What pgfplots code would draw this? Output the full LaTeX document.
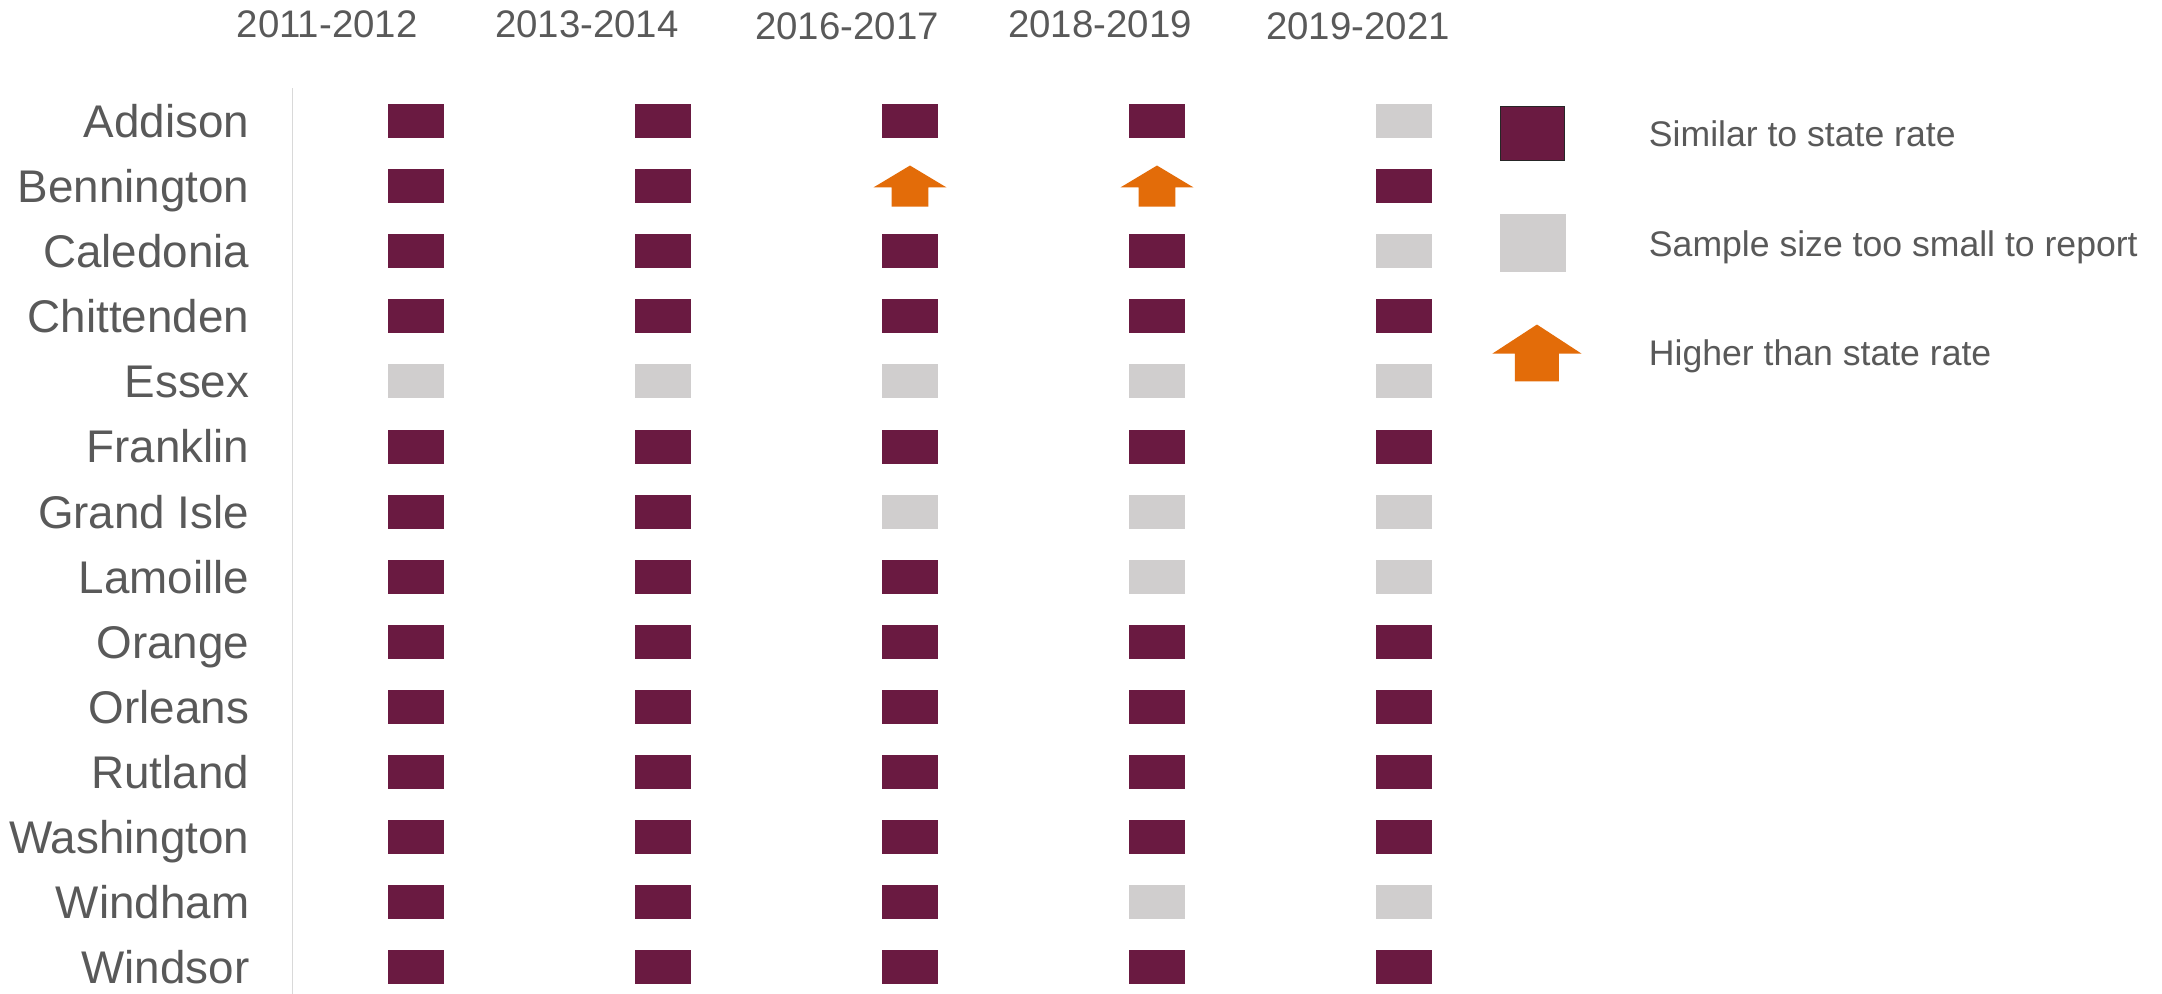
\documentclass[border=0pt]{standalone}
\usepackage{pgfplots}
\pgfplotsset{compat=1.18}
\usepackage{fontspec}
\setmainfont{Liberation Sans}

\definecolor{simpurple}{HTML}{6A1A41}
\definecolor{smallgray}{HTML}{D0CECE}
\definecolor{highorange}{HTML}{E36C09}
\definecolor{txtgray}{HTML}{595959}
\definecolor{axgray}{HTML}{D9D9D9}

% cell marks (1px = 0.25pt)
\pgfdeclareplotmark{cell}{%
  \pgfpathrectangle{\pgfpoint{-7.1pt}{-4.25pt}}{\pgfpoint{14.2pt}{8.5pt}}%
  \pgfusepathqfill}
\pgfdeclareplotmark{uparrow}{%
  \pgfpathmoveto{\pgfpoint{-4.6pt}{-5.1pt}}%
  \pgfpathlineto{\pgfpoint{4.6pt}{-5.1pt}}%
  \pgfpathlineto{\pgfpoint{4.6pt}{-0.3pt}}%
  \pgfpathlineto{\pgfpoint{9.1pt}{-0.3pt}}%
  \pgfpathlineto{\pgfpoint{0pt}{5.15pt}}%
  \pgfpathlineto{\pgfpoint{-9.1pt}{-0.3pt}}%
  \pgfpathlineto{\pgfpoint{-4.6pt}{-0.3pt}}%
  \pgfpathclose
  \pgfusepathqfill}

\begin{document}
\begin{tikzpicture}
\useasboundingbox (-73.125pt,0pt) rectangle (467.375pt,248.5pt);
\begin{axis}[
    at={(0pt,0pt)}, anchor=south west,
    scale only axis,
    width=308.75pt, height=226.375pt,
    xmin=-0.5, xmax=4.5,
    ymin=-0.5, ymax=13.41,
    y dir=reverse,
    axis x line=none,
    axis y line*=left,
    y axis line style={draw=axgray, line width=0.4pt, -},
    xtick=\empty,
    ytick={0,...,13},
    yticklabels={Addison,Bennington,Caledonia,Chittenden,Essex,Franklin,Grand Isle,Lamoille,Orange,Orleans,Rutland,Washington,Windham,Windsor},
    major tick length=0pt,
    yticklabel style={font=\fontsize{11.45pt}{13pt}\selectfont, text=txtgray,
        inner sep=0pt, anchor=base east, xshift=-10.6pt, yshift=-4.1pt},
    clip=false,
    legend cell align=left,
    legend style={at={(axis description cs:0.973,1.0106)}, anchor=north west,
        draw=none, fill=none, inner sep=0pt, outer sep=0pt,
        row sep=0pt, column sep=0pt,
        nodes={inner sep=0pt, text=txtgray, text height=6.4pt, text depth=0pt,
            font=\fontsize{8.9pt}{10.5pt}\selectfont}},
]
\addplot[only marks, mark=cell, color=simpurple,
    legend image code/.code={
        \path[draw=none, fill=none] (0pt,-13.7pt) rectangle (38.5pt,13.7pt);
        \fill[simpurple, draw=black!85, line width=0.25pt] (1.5pt,-6.75pt) rectangle (17.5pt,6.75pt);}]
coordinates {
    (0,0) (1,0) (2,0) (3,0)
    (0,1) (1,1) (4,1)
    (0,2) (1,2) (2,2) (3,2)
    (0,3) (1,3) (2,3) (3,3) (4,3)
    (0,5) (1,5) (2,5) (3,5) (4,5)
    (0,6) (1,6)
    (0,7) (1,7) (2,7)
    (0,8) (1,8) (2,8) (3,8) (4,8)
    (0,9) (1,9) (2,9) (3,9) (4,9)
    (0,10) (1,10) (2,10) (3,10) (4,10)
    (0,11) (1,11) (2,11) (3,11) (4,11)
    (0,12) (1,12) (2,12)
    (0,13) (1,13) (2,13) (3,13) (4,13)
};
\addlegendentry{Similar to state rate}
\addplot[only marks, mark=cell, color=smallgray,
    legend image code/.code={
        \path[draw=none, fill=none] (0pt,-13.7pt) rectangle (38.5pt,13.7pt);
        \fill[smallgray] (1.5pt,-7pt) rectangle (17.5pt,7pt);}]
coordinates {
    (4,0)
    (4,2)
    (0,4) (1,4) (2,4) (3,4) (4,4)
    (2,6) (3,6) (4,6)
    (3,7) (4,7)
    (3,12) (4,12)
};
\addlegendentry{Sample size too small to report}
\addplot[only marks, mark=uparrow, color=highorange,
    legend image code/.code={
        \path[draw=none, fill=none] (0pt,-13.7pt) rectangle (38.5pt,13.7pt);
        \fill[highorange] (5.2pt,-6.9pt) -- (15.8pt,-6.9pt) -- (15.8pt,0pt)
            -- (21pt,0pt) -- (10.5pt,6.85pt) -- (0pt,0pt) -- (5.2pt,0pt) -- cycle;}]
coordinates {
    (2,1) (3,1)
};
\addlegendentry{Higher than state rate}

\begin{scope}[every node/.style={anchor=base, text=txtgray,
        font=\fontsize{9.6pt}{11pt}\selectfont}]
\node at (axis cs:-0.36,-1.29) {2011-2012};
\node at (axis cs:0.692,-1.29) {2013-2014};
\node at (axis cs:1.745,-1.245) {2016-2017};
\node at (axis cs:2.769,-1.29) {2018-2019};
\node at (axis cs:3.814,-1.26) {2019-2021};
\end{scope}
\end{axis}
\end{tikzpicture}
\end{document}
